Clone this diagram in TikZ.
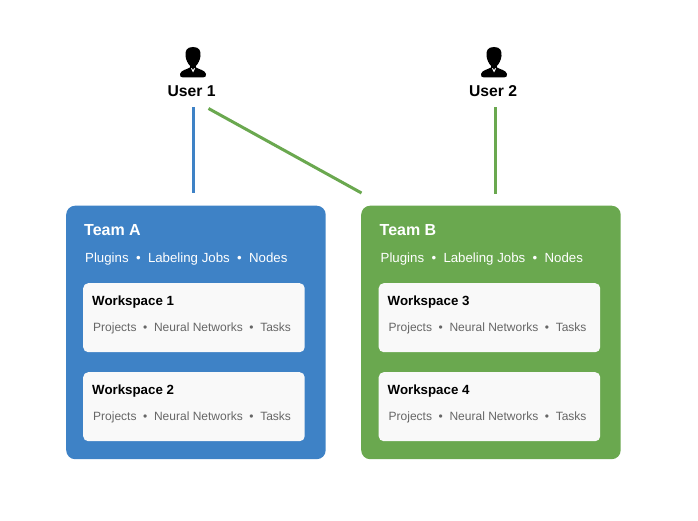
\documentclass[tikz,border=0pt]{standalone}
\usepackage{fontspec}
\setmainfont{Liberation Sans}
\definecolor{teamblue}{HTML}{3E82C6}
\definecolor{teamgreen}{HTML}{6AA84F}
\definecolor{wsfill}{HTML}{F9F9F9}
\definecolor{wstext}{HTML}{666666}
\tikzset{
  x=1pt,y=-1pt,
  teambox/.style={rounded corners=9pt,minimum width=259.5pt,minimum height=253.5pt,anchor=north west,inner sep=0pt,draw=none},
  wsbox/.style={fill=wsfill,rounded corners=5pt,minimum width=221.5pt,minimum height=69pt,anchor=north west,inner sep=0pt,draw=none},
  teamtitle/.style={anchor=base west,inner sep=0pt,text=white,font=\fontsize{16}{18}\selectfont\bfseries},
  teamitems/.style={anchor=base west,inner sep=0pt,text=white,font=\fontsize{13.25}{16}\selectfont},
  wstitle/.style={anchor=base west,inner sep=0pt,text=black,font=\fontsize{13.3}{15}\selectfont\bfseries},
  wsitems/.style={anchor=base west,inner sep=0pt,text=wstext,font=\fontsize{12}{14}\selectfont},
  userlabel/.style={anchor=base,inner sep=0pt,text=black,font=\fontsize{15.7}{18}\selectfont\bfseries},
  link/.style={line width=3pt},
}
\newcommand{\personicon}[1]{%
  \begin{scope}[shift={(#1,0)}]
    \fill[black] (0,47) .. controls (-6.5,47) and (-8,51) .. (-7.5,56) .. controls (-7,60) and (-5,64) .. (-2.8,66) -- (-3,67.5)
      .. controls (-6,69.5) and (-12,70) .. (-13,74) .. controls (-13.3,76) and (-12.5,77.5) .. (-10,77.5) -- (10,77.5) .. controls (12.5,77.5) and (13.3,76) .. (13,74)
      .. controls (12,70) and (6,69.5) .. (3,67.5) -- (2.8,66) .. controls (5,64) and (7,60) .. (7.5,56) .. controls (8,51) and (6.5,47) .. (0,47) -- cycle;
    \fill[white] (-2,68.5) -- (0,72.5) -- (2,68.5) -- (1.1,68.2) -- (0,70.2) -- (-1.1,68.2) -- cycle;
  \end{scope}}
\begin{document}
\begin{tikzpicture}
\useasboundingbox (0,0) rectangle (698,521);
\personicon{193}
\personicon{494}
\node[userlabel] (u1) at (191.5,96.5) {User 1};
\node[userlabel] (u2) at (493,96.5) {User 2};

\node[teambox,fill=teamblue] (ta) at (66,205.5) {};
\node[teambox,fill=teamgreen] (tb) at (361,205.5) {};

\coordinate (u1a) at (193.5,107.5);
\coordinate (u1ae) at (193.5,193.5);
\coordinate (u1b) at (208.5,108.5);
\coordinate (u1be) at (361.5,193);
\coordinate (u2b) at (495,107.5);
\coordinate (u2be) at (495,194);
\draw[link,teamblue] (u1a) -- (u1ae);
\draw[link,teamgreen] (u1b) -- (u1be);
\draw[link,teamgreen] (u2b) -- (u2be);

\node[teamtitle] (tat) at (84,236) {Team A};
\node[teamitems] (tai) at (85,262) {Plugins~~•~~Labeling Jobs~~•~~Nodes};
\node[teamtitle] (tbt) at (379.5,236) {Team B};
\node[teamitems] (tbi) at (380.5,262) {Plugins~~•~~Labeling Jobs~~•~~Nodes};

\node[wsbox] (w1) at (83,283) {};
\node[wsbox] (w2) at (83,372) {};
\node[wsbox] (w3) at (378.5,283) {};
\node[wsbox] (w4) at (378.5,372) {};

\node[wstitle] (w1t) at (92,305) {Workspace 1};
\node[wsitems] (w1i) at (93,331) {Projects~~•~~Neural Networks~~•~~Tasks};
\node[wstitle] (w2t) at (92,394) {Workspace 2};
\node[wsitems] (w2i) at (93,420) {Projects~~•~~Neural Networks~~•~~Tasks};
\node[wstitle] (w3t) at (387.5,305) {Workspace 3};
\node[wsitems] (w3i) at (388.5,331) {Projects~~•~~Neural Networks~~•~~Tasks};
\node[wstitle] (w4t) at (387.5,394) {Workspace 4};
\node[wsitems] (w4i) at (388.5,420) {Projects~~•~~Neural Networks~~•~~Tasks};
\end{tikzpicture}
\end{document}
